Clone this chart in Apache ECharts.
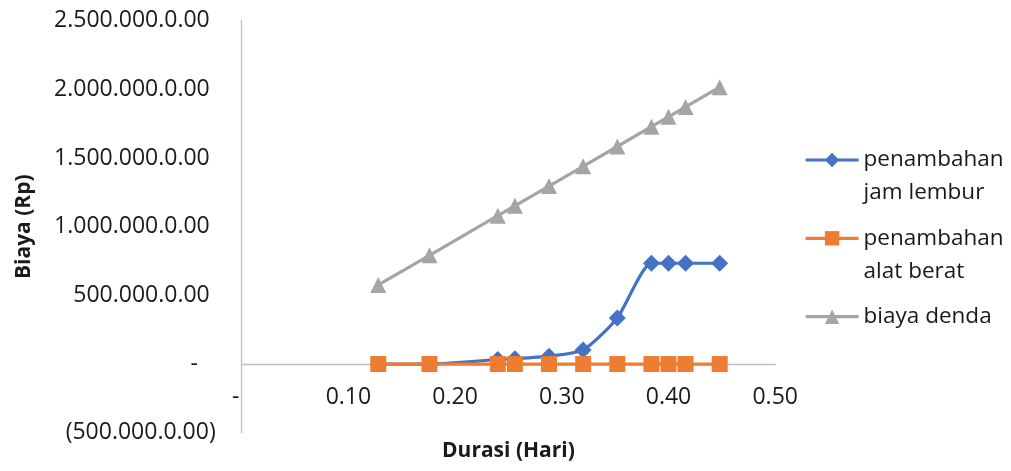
<!DOCTYPE html>
<html>
<head>
<meta charset="utf-8">
<script src="https://cdn.jsdelivr.net/npm/echarts@6/dist/echarts.min.js"></script>
<style>
html,body{margin:0;padding:0;background:#fff;}
#chart{width:1011px;height:471px;}
</style>
</head>
<body>
<div id="chart"></div>
<script>
// ---- data ----
const xValues    = [0.128, 0.176, 0.240, 0.256, 0.288, 0.320, 0.352, 0.384, 0.400, 0.416, 0.448];
const jamLembur  = [0, 0, 33000, 38000, 57000, 103000, 336000, 734000, 734000, 734000, 734000];
const alatBerat  = [0, 0, 0, 0, 0, 0, 0, 0, 0, 0, 0];
const biayaDenda = [576000, 792000, 1080000, 1152000, 1296000, 1440000, 1584000, 1728000, 1800000, 1872000, 2016000];

const seriesNames  = ['penambahan jam lembur', 'penambahan alat berat', 'biaya denda'];
const legendLabels = ['penambahan\njam lembur', 'penambahan\nalat berat', 'biaya denda'];
const xTickLabels  = ['-', '0.10', '0.20', '0.30', '0.40', '0.50'];
const yTickLabels  = ['(500.000.0.00)', '-', '500.000.0.00', '1.000.000.0.00', '1.500.000.0.00', '2.000.000.0.00', '2.500.000.0.00'];
const xTitle = 'Durasi (Hari)';
const yTitle = 'Biaya (Rp)';

// ---- styling ----
const FONT = '"Open Sans", "Noto Sans", sans-serif';
const TXT = '#1a1a1a';
const AX = '#bfbfbf';
const colors = ['#4472C4', '#ED7D31', '#A5A5A5'];
const symbols = ['diamond', 'rect', 'triangle'];
const symbolSizes = [17, 16, 16];
const seriesValues = [jamLembur, alatBerat, biayaDenda];
const smoothFlags = [0.22, false, false];
const legendTops = [110.5, 188.8, 300.2];

const GRID_TOP = 20.7, GRID_BOTTOM = 38.3, H = 471;
const Y_MIN = -500000, Y_MAX = 2500000;
// shift the horizontal axis (line, labels, title) up to the zero value
const zeroOffset = -(H - GRID_BOTTOM - GRID_TOP) * (0 - Y_MIN) / (Y_MAX - Y_MIN);

const chart = echarts.init(document.getElementById('chart'), null, {renderer: 'canvas'});

const option = {
  backgroundColor: '#fff',
  animation: false,
  grid: {left: 241.7, right: 235.8, top: GRID_TOP, bottom: GRID_BOTTOM, containLabel: false, outerBoundsMode: 'none'},
  xAxis: {
    type: 'value',
    min: 0, max: 0.5, interval: 0.1,
    offset: zeroOffset,
    name: xTitle,
    nameLocation: 'middle',
    nameGap: 76,
    nameTextStyle: {fontFamily: FONT, fontSize: 21, fontWeight: 'bold', color: TXT},
    axisLine: {show: true, onZero: false, lineStyle: {color: AX, width: 1.3}},
    axisTick: {show: false},
    splitLine: {show: false},
    axisLabel: {
      show: true, showMinLabel: true, showMaxLabel: true,
      margin: 22,
      fontFamily: FONT, fontSize: 23, color: TXT,
      formatter: function (v) {
        const idx = Math.round(v / 0.1);
        const t = xTickLabels[idx];
        return t === '-' ? '-  ' : t;
      }
    }
  },
  yAxis: {
    type: 'value',
    min: Y_MIN, max: Y_MAX, interval: 500000,
    name: yTitle,
    nameLocation: 'middle',
    nameRotate: 90,
    nameGap: 207,
    nameTextStyle: {fontFamily: FONT, fontSize: 21, fontWeight: 'bold', color: TXT},
    axisLine: {show: true, onZero: false, lineStyle: {color: AX, width: 1.3}},
    axisTick: {show: false},
    splitLine: {show: false},
    axisLabel: {
      show: true, showMinLabel: true, showMaxLabel: true,
      margin: 26,
      fontFamily: FONT, fontSize: 23, color: TXT,
      formatter: function (v) {
        const idx = Math.round((v - Y_MIN) / 500000);
        const t = yTickLabels[idx];
        if (t.charAt(0) === '(') return t;
        if (t === '-') return '-   ';
        return t + ' ';
      }
    }
  },
  legend: seriesNames.map(function (n, i) {
    return {
      data: [n],
      orient: 'vertical',
      left: 804,
      top: legendTops[i],
      padding: 0,
      itemWidth: 53,
      itemHeight: 18,
      itemGap: 0,
      selectedMode: false,
      lineStyle: {width: 3.2},
      textStyle: {fontFamily: FONT, fontSize: 22.5, lineHeight: 33, color: TXT},
      formatter: function () {
        const lbl = legendLabels[i];
        return lbl.indexOf('\n') >= 0 ? '\n' + lbl : lbl;
      }
    };
  }),
  series: seriesNames.map(function (n, i) {
    return {
      name: n,
      type: 'line',
      data: xValues.map(function (x, k) { return [x, seriesValues[i][k]]; }),
      smooth: smoothFlags[i],
      symbol: symbols[i],
      symbolSize: symbolSizes[i],
      showSymbol: true,
      color: colors[i],
      itemStyle: {color: colors[i], borderWidth: 0},
      lineStyle: {color: colors[i], width: 3.2},
      emphasis: {disabled: true}
    };
  })
};

chart.setOption(option);
</script>
</body>
</html>
